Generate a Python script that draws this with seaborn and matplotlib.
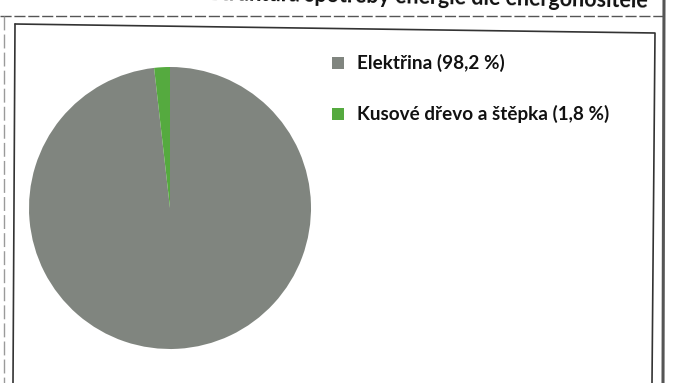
import matplotlib
matplotlib.use("Agg")
import matplotlib.pyplot as plt
from matplotlib.lines import Line2D
from matplotlib.patches import Rectangle
import seaborn as sns

# Energy carriers and their shares (%)
categories = ["Elektřina", "Kusové dřevo a štěpka"]
shares = [98.2, 1.8]
colors = ["#80857f", "#55aa3f"]
legend_labels = ["Elektřina (98,2 %)", "Kusové dřevo a štěpka (1,8 %)"]
title_text = "Struktura spotřeby energie dle energonositele"

sns.set_theme(style="white")
plt.rcParams["font.family"] = ["Lato", "DejaVu Sans"]

W, H = 675, 383
fig = plt.figure(figsize=(W / 100, H / 100), dpi=100)
fig.patch.set_facecolor("white")


def fx(x):
    return x / W


def fy(y):
    return 1 - y / H


# Table cell frame
fig.add_artist(Line2D([fx(0), fx(664)], [fy(16), fy(16)], color="#555555",
                      lw=1.0, ls=(0, (8, 2)), transform=fig.transFigure))
fig.add_artist(Line2D([fx(4), fx(4)], [fy(16), fy(383)], color="#9a9a9a",
                      lw=1.0, ls=(0, (10, 3)), transform=fig.transFigure))
fig.add_artist(Line2D([fx(664), fx(663)], [fy(0), fy(383)], color="#555555",
                      lw=2.2, transform=fig.transFigure))

# Chart area border (slightly skewed, as pasted into the page)
fig.add_artist(Line2D([fx(15), fx(655), fx(652)], [fy(24), fy(33), fy(383)],
                      color="#333333", lw=1.2, transform=fig.transFigure))
fig.add_artist(Line2D([fx(15), fx(13)], [fy(24), fy(383)],
                      color="#333333", lw=1.2, transform=fig.transFigure))

# Title (its upper part runs past the top edge of the page crop)
fig.text(fx(648), fy(8), title_text, ha="right", va="baseline",
         rotation=-1.0, rotation_mode="anchor",
         fontsize=15.5, fontweight="bold", color="#111111")

# Pie
cx, cy, r = 170, 208, 141
ax = fig.add_axes([fx(cx - r), fy(cy + r), (2 * r) / W, (2 * r) / H])
start = 90 - 360 * shares[0] / sum(shares)
ax.pie(shares, colors=colors, startangle=start, counterclock=True,
       wedgeprops=dict(linewidth=0))
ax.set_xlim(-1, 1)
ax.set_ylim(-1, 1)
ax.set_axis_off()

# Legend
legend_y = [63, 114]
for lab, col, y in zip(legend_labels, colors, legend_y):
    fig.add_artist(Rectangle((fx(332), fy(y + 6)), 12 / W, 12 / H,
                             facecolor=col, edgecolor="none",
                             transform=fig.transFigure))
    fig.text(fx(357), fy(y), lab, ha="left", va="center",
             fontsize=13.6, fontweight="bold", color="#111111")

fig.savefig("out.png", dpi=100, facecolor="white")
